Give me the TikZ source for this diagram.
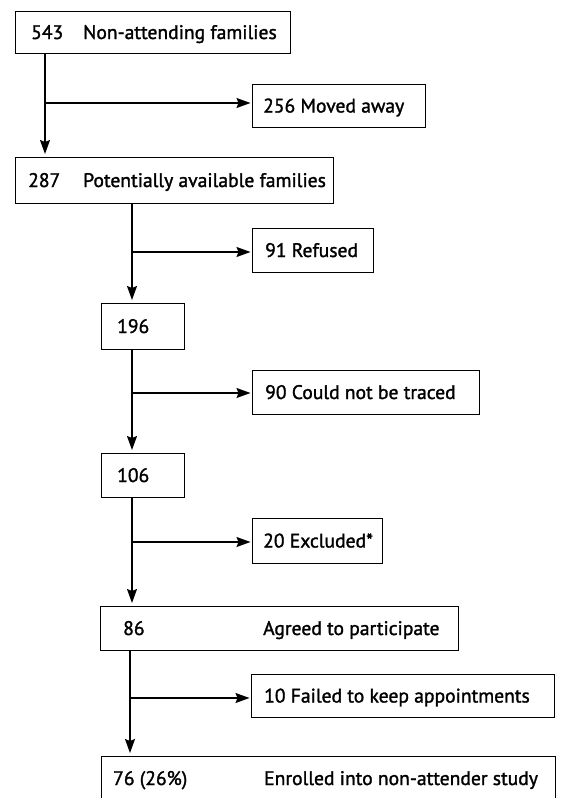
\documentclass[tikz,border=0pt]{standalone}
\usepackage{fontspec}
\setmainfont{PT Sans}
\newfontfamily\lblfont{PT Sans}[FakeBold=1.5]
\usetikzlibrary{arrows.meta}
\begin{document}
\begin{tikzpicture}[x=1pt,y=-1pt,
  box/.style={draw,line width=1.4pt,rectangle,inner sep=0pt,anchor=north west},
  lbl/.style={anchor=base west,inner sep=0pt,font=\lblfont\fontsize{19.6}{22}\selectfont},
  arr/.style={line width=1.4pt,-{Stealth[length=14pt,width=10pt,inset=2pt]},shorten >=3pt},
  harr/.style={arr,shorten >=1.5pt}]
\useasboundingbox (0,0) rectangle (561,798);
\clip (0,0) rectangle (561,798);
% boxes
\node[box,minimum width=275pt,minimum height=42pt] (b1) at (15,11) {};
\node[box,minimum width=173pt,minimum height=43pt] (m1) at (252,84) {};
\node[box,minimum width=318pt,minimum height=46pt] (b2) at (15,157) {};
\node[box,minimum width=121pt,minimum height=44pt] (r1) at (252,228) {};
\node[box,minimum width=83pt,minimum height=46pt] (b3) at (101,303) {};
\node[box,minimum width=227pt,minimum height=44pt] (c1) at (252,370) {};
\node[box,minimum width=83pt,minimum height=44pt] (b4) at (101,453) {};
\node[box,minimum width=130pt,minimum height=45pt] (e1) at (252,518) {};
\node[box,minimum width=358pt,minimum height=44pt] (b5) at (100,606) {};
\node[box,minimum width=303pt,minimum height=43pt] (f1) at (251,674) {};
\node[box,minimum width=454pt,minimum height=48pt] (b6) at (101,756) {};
% labels
\node[lbl] (t1a) at (31,39) {543};
\node[lbl] (t1b) at (83,39) {Non-attending families};
\node[lbl] (tm) at (263,112.5) {256 Moved away};
\node[lbl] (t2a) at (28,187) {287};
\node[lbl] (t2b) at (83,187) {Potentially available families};
\node[lbl] (tr) at (265,257) {91 Refused};
\node[lbl] (t3) at (117,333) {196};
\node[lbl] (tc) at (265,399) {90 Could not be traced};
\node[lbl] (t4) at (117,482) {106};
\node[lbl] (te) at (263,547.5) {20 Excluded*};
\node[lbl] (t5a) at (123,635) {86};
\node[lbl] (t5b) at (263,635) {Agreed to participate};
\node[lbl] (tf) at (264,702.5) {10 Failed to keep appointments};
\node[lbl] (t6a) at (113,785) {76 (26\%)};
\node[lbl] (t6b) at (264,785) {Enrolled into non-attender study};
% vertical lines
\coordinate (x1) at (45,0);
\coordinate (x2) at (132,0);
\coordinate (x3) at (130,0);
\draw[arr] (x1 |- b1.south) -- (x1 |- b2.north);
\draw[arr] (x2 |- b2.south) -- (x2 |- b3.north);
\draw[arr] (x2 |- b3.south) -- (x2 |- b4.north);
\draw[arr] (x2 |- b4.south) -- (x2 |- b5.north);
\draw[arr] (x3 |- b5.south) -- (x3 |- b6.north);
% branches
\coordinate (j1) at (45,103);
\coordinate (j2) at (132,252);
\coordinate (j3) at (132,393);
\coordinate (j4) at (132,542);
\coordinate (j5) at (130,698);
\draw[harr] (j1) -- (j1 -| m1.west);
\draw[harr] (j2) -- (j2 -| r1.west);
\draw[harr] (j3) -- (j3 -| c1.west);
\draw[harr] (j4) -- (j4 -| e1.west);
\draw[harr] (j5) -- (j5 -| f1.west);
\end{tikzpicture}
\end{document}
